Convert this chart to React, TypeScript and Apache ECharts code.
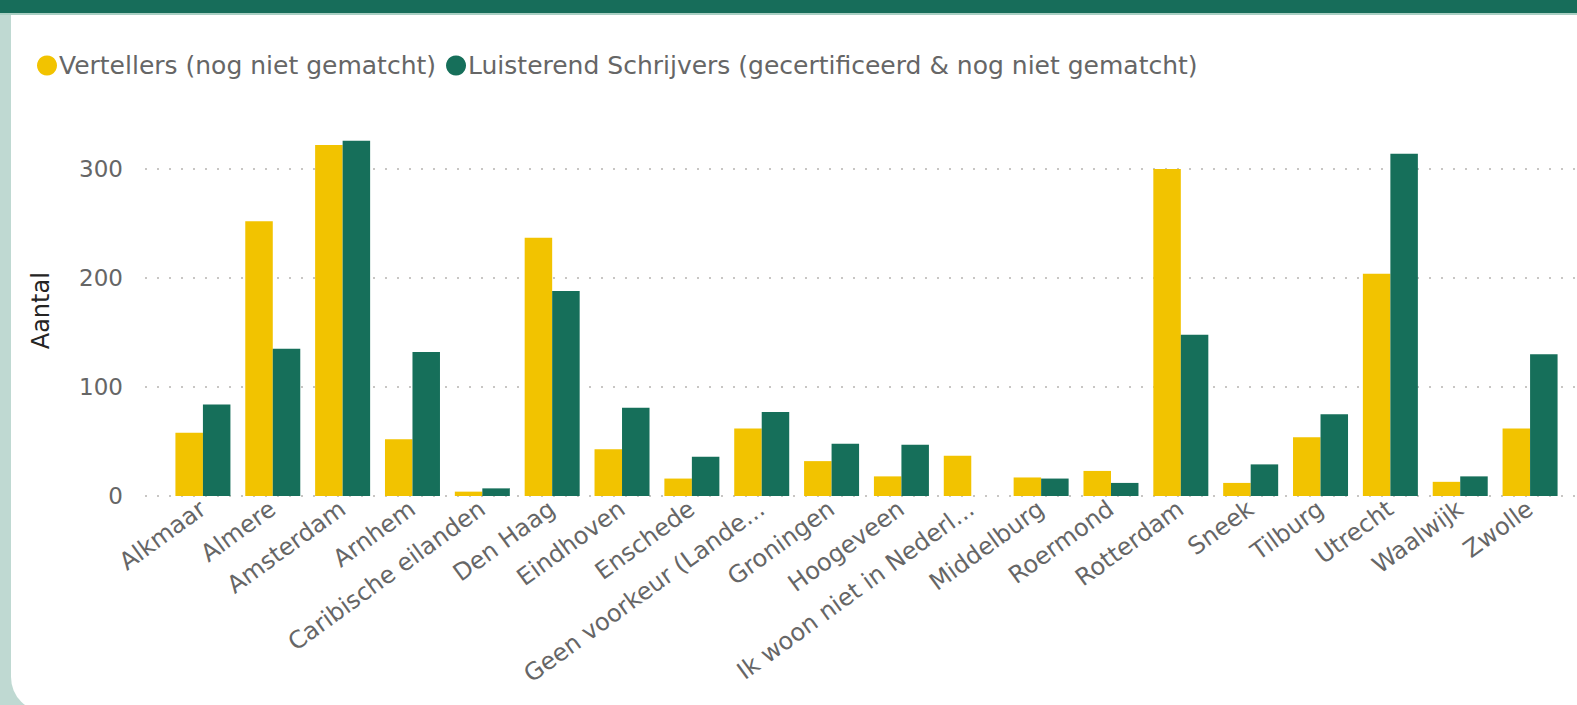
import React, { useEffect, useRef } from "react";
import * as echarts from "echarts";

const categories = [
  "Alkmaar", "Almere", "Amsterdam", "Arnhem", "Caribische eilanden", "Den Haag",
  "Eindhoven", "Enschede", "Geen voorkeur (Lande...", "Groningen", "Hoogeveen",
  "Ik woon niet in Nederl...", "Middelburg", "Roermond", "Rotterdam", "Sneek",
  "Tilburg", "Utrecht", "Waalwijk", "Zwolle",
];
const vertellers = [58, 252, 322, 52, 4, 237, 43, 16, 62, 32, 18, 37, 17, 23, 300, 12, 54, 204, 13, 62];
const schrijvers = [84, 135, 326, 132, 7, 188, 81, 36, 77, 48, 47, 0, 16, 12, 148, 29, 75, 314, 18, 130];
const seriesNames = [
  "Vertellers (nog niet gematcht)",
  "Luisterend Schrijvers (gecertificeerd & nog niet gematcht)",
];
const yTicks = { min: 0, max: 340, interval: 100 };

const FONT = "'DejaVu Sans', Verdana, sans-serif";
const YELLOW = "#f2c300";
const GREEN = "#166f5a";

export default function App() {
  const ref = useRef<HTMLDivElement>(null);

  useEffect(() => {
    if (!ref.current) return;
    const chart = echarts.init(ref.current, undefined, { renderer: "svg" });
    const top = 496 - (yTicks.max / 100) * 109;
    chart.setOption({
      animation: false,
      legend: {
        left: 32,
        top: 48,
        icon: "circle",
        itemWidth: 20,
        itemHeight: 20,
        itemGap: 10,
        textStyle: { fontFamily: FONT, fontSize: 25, color: "#666666", padding: [0, 0, 0, -3] },
        data: seriesNames,
      },
      grid: [
        { left: 168, right: 12, top, bottom: 705 - 496 },
        { left: 145, right: 0, top, bottom: 705 - 496 },
      ],
      xAxis: [
        {
          type: "category",
          gridIndex: 0,
          data: categories,
          axisLine: { show: false },
          axisTick: { show: false },
          axisLabel: {
            interval: 0,
            rotate: 36,
            margin: 10,
            color: "#666666",
            fontFamily: FONT,
            fontSize: 24,
          },
        },
        { type: "value", gridIndex: 1, show: false, min: 0, max: 1 },
      ],
      yAxis: [
        { type: "value", gridIndex: 0, min: yTicks.min, max: yTicks.max, show: false },
        {
          type: "value",
          gridIndex: 1,
          min: yTicks.min,
          max: yTicks.max,
          interval: yTicks.interval,
          axisLine: { show: false },
          axisTick: { show: false },
          axisLabel: {
            showMaxLabel: false,
            margin: 22,
            color: "#666666",
            fontFamily: FONT,
            fontSize: 23,
          },
          splitLine: {
            show: true,
            showMaxLine: false,
            lineStyle: { color: "#c8c6c4", width: 2, type: [2, 10] },
          },
          name: "Aantal",
          nameLocation: "middle",
          nameGap: 92,
          nameTextStyle: { fontFamily: FONT, fontSize: 24, color: "#252423" },
        },
      ],
      series: [
        {
          type: "bar",
          name: seriesNames[0],
          data: vertellers,
          xAxisIndex: 0,
          yAxisIndex: 0,
          barWidth: 27.5,
          barGap: "0%",
          itemStyle: { color: YELLOW },
        },
        {
          type: "bar",
          name: seriesNames[1],
          data: schrijvers,
          xAxisIndex: 0,
          yAxisIndex: 0,
          barWidth: 27.5,
          barGap: "0%",
          itemStyle: { color: GREEN },
        },
      ],
    });
    return () => chart.dispose();
  }, []);

  return (
    <div
      style={{
        position: "fixed",
        left: 0,
        top: 0,
        width: 1577,
        height: 705,
        background: "#bfd9d2",
        overflow: "hidden",
      }}
    >
      <div style={{ position: "absolute", left: 0, top: 0, width: 1577, height: 13, background: "#176d5a" }} />
      <div style={{ position: "absolute", left: 0, top: 13, width: 1577, height: 2, background: "#a9cfc3" }} />
      <div
        style={{
          position: "absolute",
          left: 11,
          top: 15,
          width: 1600,
          height: 697,
          background: "#ffffff",
          borderBottomLeftRadius: 35,
        }}
      />
      <div ref={ref} style={{ position: "absolute", left: 0, top: 0, width: 1577, height: 705 }} />
    </div>
  );
}
